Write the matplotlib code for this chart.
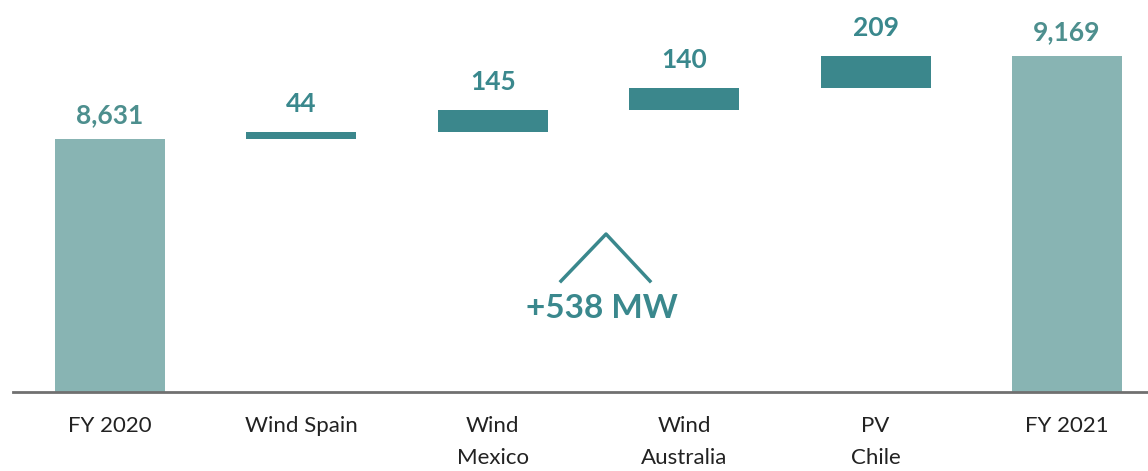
import numpy as np
import matplotlib.pyplot as plt
from matplotlib.lines import Line2D

plt.rcParams['font.family'] = ['Lato', 'DejaVu Sans']

# Installed capacity bridge (MW)
categories = ['FY 2020', 'Wind Spain', 'Wind\nMexico', 'Wind\nAustralia', 'PV\nChile', 'FY 2021']
start_total = 8631
additions = [44, 145, 140, 209]
end_total = start_total + sum(additions)
total_label = '+538 MW'

base_color = '#88b4b3'
step_color = '#3b878c'
base_text = '#4d8f8e'
step_text = '#3a888d'

fig = plt.figure(figsize=(11.48, 4.71), dpi=100)
ax = fig.add_axes([13 / 1148, 79 / 471, 1135 / 1148, 392 / 471])

x = np.arange(len(categories))
width = 0.575
ymin = 7000

# totals
ax.bar([x[0], x[-1]], [start_total - ymin, end_total - ymin], bottom=ymin,
       width=width, color=base_color)
for xi, v in [(x[0], start_total), (x[-1], end_total)]:
    ax.annotate(f'{v:,}', (xi, v), xytext=(0, 8.5), textcoords='offset points',
                ha='center', va='bottom', fontsize=19, fontweight='bold', color=base_text)

# floating steps
bottoms = start_total + np.concatenate([[0], np.cumsum(additions)[:-1]])
ax.bar(x[1:-1], additions, bottom=bottoms, width=width, color=step_color)
for xi, b, v in zip(x[1:-1], bottoms, additions):
    ax.annotate(f'{v}', (xi, b + v), xytext=(0, 11.5), textcoords='offset points',
                ha='center', va='bottom', fontsize=19, fontweight='bold', color=step_text)

# bracket and total increase
ax.add_line(Line2D([0.4828, 0.5225, 0.5612], [0.283, 0.403, 0.283],
                   transform=ax.transAxes, color=step_text, lw=2.5))
ax.text(0.519, 0.214, total_label, transform=ax.transAxes, ha='center', va='center',
        fontsize=24, fontweight='bold', color=step_text)

ax.set_xlim(-0.507, 5.423)
ax.set_ylim(ymin, ymin + 392 / 0.155)
ax.set_xticks(x)
ax.set_xticklabels(categories, fontsize=16, color='#222222', linespacing=1.75)
ax.tick_params(axis='x', length=0, pad=17)
ax.set_yticks([])
for s in ['top', 'right', 'left']:
    ax.spines[s].set_visible(False)
ax.spines['bottom'].set_color('#707070')
ax.spines['bottom'].set_linewidth(2)

fig.savefig('out.png', dpi=100)
